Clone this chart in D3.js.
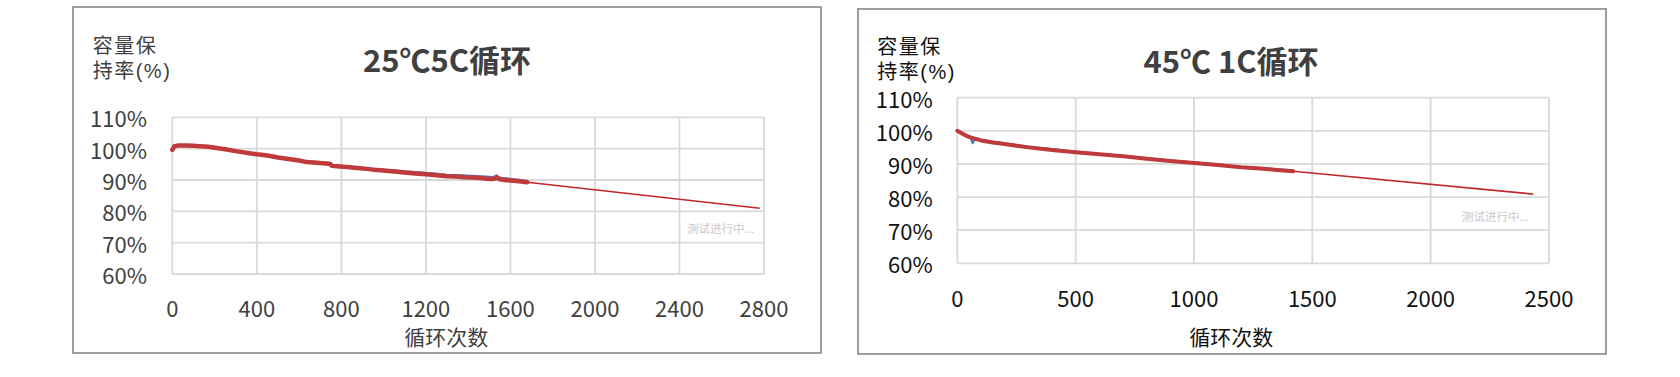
<!DOCTYPE html>
<html>
<head>
<meta charset="utf-8">
<script src="https://cdn.jsdelivr.net/npm/d3@7"></script>
<style>
  body { margin: 0; background: #fff; }
  svg { display: block; }
  text { font-family: "Noto Sans CJK SC", "Noto Sans", sans-serif; }
  text.ytitle { font-family: "Liberation Sans", "Noto Sans CJK SC", sans-serif; }
</style>
</head>
<body>
<svg id="chart" width="1680" height="377"></svg>
<script>
// 25°C 5C 循环
const c25Cycles = [0, 10, 30, 60, 100, 130, 170, 200, 250, 300, 350, 400, 450, 500, 550, 600, 636, 670, 700, 740, 748, 755, 780, 800, 850, 900, 950, 1000, 1050, 1100, 1150, 1200, 1230, 1260, 1300, 1340, 1380, 1420, 1460, 1488, 1510, 1525, 1535, 1545, 1560, 1600, 1640, 1680];
const c25SeriesRed = [99.6, 100.8, 101.0, 101.0, 100.9, 100.8, 100.6, 100.3, 99.8, 99.2, 98.7, 98.2, 97.8, 97.2, 96.7, 96.2, 95.7, 95.6, 95.4, 95.2, 95.1, 94.5, 94.4, 94.3, 94.0, 93.7, 93.3, 93.0, 92.7, 92.4, 92.1, 91.8, 91.7, 91.4, 91.2, 91.1, 90.9, 90.8, 90.6, 90.4, 90.3, 90.4, 90.9, 90.3, 90.1, 89.8, 89.6, 89.3];
const c25SeriesBlue = [99.7, 100.9, 101.1, 101.1, 101.0, 100.9, 100.7, 100.4, 99.9, 99.3, 98.8, 98.3, 97.9, 97.3, 96.8, 96.3, 95.8, 95.7, 95.5, 95.3, 95.2, 94.6, 94.5, 94.4, 94.1, 93.8, 93.5, 93.2, 93.0, 92.7, 92.5, 92.2, 92.1, 91.9, 91.6, 91.5, 91.4, 91.3, 91.1, 91.0, 90.9, 91.0, 91.4, 90.8, 90.6, 90.3, 90.0, 89.6];
const c25TrendCycles = [1680, 2780];
const c25Trend = [89.3, 81.0];
const c25XTicks = [0, 400, 800, 1200, 1600, 2000, 2400, 2800];

// 45°C 1C 循环
const c45Cycles = [0, 20, 40, 55, 65, 75, 100, 150, 200, 300, 400, 500, 600, 700, 800, 900, 1000, 1100, 1200, 1280, 1350, 1419];
const c45SeriesRed = [100.0, 99.2, 98.4, 98.0, 97.8, 97.6, 97.1, 96.5, 96.0, 95.0, 94.2, 93.5, 92.9, 92.3, 91.6, 90.9, 90.3, 89.7, 89.0, 88.6, 88.2, 87.8];
const c45SeriesBlue = [100.0, 99.3, 98.6, 98.2, 96.3, 97.8, 97.3, 96.7, 96.2, 95.2, 94.4, 93.6, 93.0, 92.4, 91.7, 91.0, 90.4, 89.8, 89.1, 88.7, 88.3, 88.0];
const c45TrendCycles = [1419, 2433];
const c45Trend = [87.8, 80.9];
const c45XTicks = [0, 500, 1000, 1500, 2000, 2500];

const yTicks = [60, 70, 80, 90, 100, 110];

const panels = [
  {
    title: "25℃5C循环", box: [73, 7, 748, 346], plot: [172.3, 764, 117.3, 274],
    xMax: 2800, xTicks: c25XTicks, cycles: c25Cycles, red: c25SeriesRed, blue: c25SeriesBlue,
    trendX: c25TrendCycles, trendY: c25Trend, labelColor: "#404040",
    yLabelX: 147, xLabelY: 307, yTitle: [92.7, 53, 78], titlePos: [447, 72], xTitleY: 345,
    mark: [754, 228], redWidth: 4.5
  },
  {
    title: "45℃ 1C循环", box: [858, 9, 748, 345], plot: [957.3, 1549, 97.7, 263.3],
    xMax: 2500, xTicks: c45XTicks, cycles: c45Cycles, red: c45SeriesRed, blue: c45SeriesBlue,
    trendX: c45TrendCycles, trendY: c45Trend, labelColor: "#111",
    yLabelX: 932.7, xLabelY: 297, yTitle: [877.3, 54, 79], titlePos: [1231, 73], xTitleY: 345,
    mark: [1529, 216], redWidth: 4
  }
];

const svg = d3.select("#chart");

panels.forEach(p => {
  const g = svg.append("g");
  g.append("rect")
    .attr("x", p.box[0]).attr("y", p.box[1])
    .attr("width", p.box[2]).attr("height", p.box[3])
    .attr("fill", "#fff").attr("stroke", "#7f7f7f").attr("stroke-width", 1.5);

  const x = d3.scaleLinear().domain([0, p.xMax]).range([p.plot[0], p.plot[1]]);
  const y = d3.scaleLinear().domain([110, 60]).range([p.plot[2], p.plot[3]]);

  // grid
  g.selectAll(".hgrid").data(yTicks).enter().append("line")
    .attr("x1", p.plot[0]).attr("x2", p.plot[1])
    .attr("y1", d => y(d)).attr("y2", d => y(d))
    .attr("stroke", "#d9d9d9").attr("stroke-width", 1.8);
  g.selectAll(".vgrid").data(p.xTicks).enter().append("line")
    .attr("x1", d => x(d)).attr("x2", d => x(d))
    .attr("y1", p.plot[2]).attr("y2", p.plot[3])
    .attr("stroke", "#d9d9d9").attr("stroke-width", 1.8);

  // tick labels
  g.selectAll(".ylab").data(yTicks).enter().append("text")
    .attr("x", p.yLabelX).attr("y", d => y(d))
    .attr("text-anchor", "end").attr("dominant-baseline", "central")
    .attr("font-size", 22).attr("fill", p.labelColor)
    .text(d => d + "%");
  g.selectAll(".xlab").data(p.xTicks).enter().append("text")
    .attr("x", d => x(d)).attr("y", p.xLabelY)
    .attr("text-anchor", "middle").attr("dominant-baseline", "central")
    .attr("font-size", 22).attr("fill", p.labelColor)
    .text(d => d);

  // y title on two lines
  g.append("text").attr("class", "ytitle").attr("x", p.yTitle[0]).attr("y", p.yTitle[1])
    .attr("font-size", 20).attr("letter-spacing", 1.5).attr("fill", p.labelColor).text("容量保");
  g.append("text").attr("class", "ytitle").attr("x", p.yTitle[0]).attr("y", p.yTitle[2])
    .attr("font-size", 20).attr("letter-spacing", 1.5).attr("fill", p.labelColor).text("持率(%)");

  g.append("text").attr("x", p.titlePos[0]).attr("y", p.titlePos[1])
    .attr("text-anchor", "middle").attr("font-size", 31).attr("font-weight", "bold")
    .attr("fill", "#404040").text(p.title);
  g.append("text").attr("x", (p.plot[0] + p.plot[1]) / 2 - 22).attr("y", p.xTitleY)
    .attr("text-anchor", "middle").attr("font-size", 21).attr("fill", p.labelColor)
    .text("循环次数");

  g.append("text").attr("x", p.mark[0]).attr("y", p.mark[1])
    .attr("text-anchor", "end").attr("dominant-baseline", "central")
    .attr("font-size", 11.5).attr("fill", "#c8c8c8").text("测试进行中...");

  const line = d3.line().x(d => x(d[0])).y(d => y(d[1]));

  g.append("path").datum(d3.zip(p.trendX, p.trendY))
    .attr("d", line).attr("fill", "none")
    .attr("stroke", "#c0282b").attr("stroke-width", 1.6);
  g.append("path").datum(d3.zip(p.cycles, p.blue))
    .attr("d", line).attr("fill", "none")
    .attr("stroke", "#4f81bd").attr("stroke-width", 2.5).attr("stroke-linejoin", "round");
  g.append("path").datum(d3.zip(p.cycles, p.red))
    .attr("d", line).attr("fill", "none")
    .attr("stroke", "#c0393b").attr("stroke-width", p.redWidth)
    .attr("stroke-linejoin", "round").attr("stroke-linecap", "round");
});
</script>
</body>
</html>
